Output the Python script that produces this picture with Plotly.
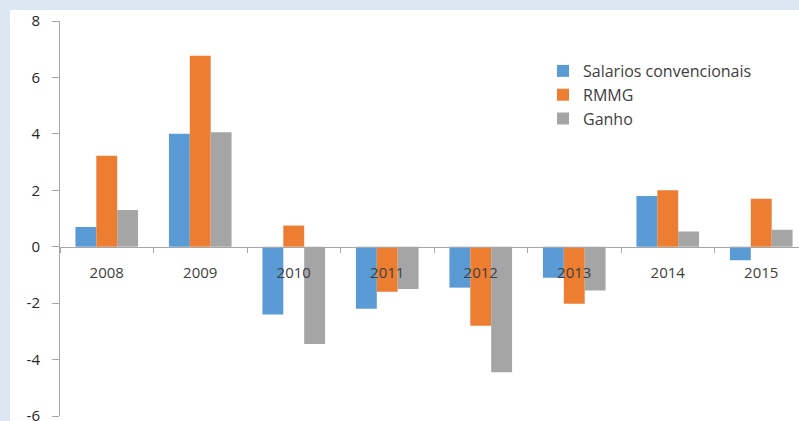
import plotly.graph_objects as go

years = ["2008", "2009", "2010", "2011", "2012", "2013", "2014", "2015"]
salarios = [0.7, 4.0, -2.4, -2.2, -1.45, -1.1, 1.8, -0.48]
rmmg = [3.22, 6.77, 0.75, -1.6, -2.8, -2.02, 2.0, 1.7]
ganho = [1.3, 4.06, -3.45, -1.5, -4.45, -1.55, 0.54, 0.6]

y_ticks = [-6, -4, -2, 0, 2, 4, 6, 8]
y_tick_labels = ["-6", "-4", "-2", "0", "2", "4", "6", "8"]

series_names = ["Salarios convencionais", "RMMG", "Ganho"]
series_colors = ["#5B9BD5", "#ED7D31", "#A5A5A5"]

W, H = 799, 421
ml, mr, mt, mb = 60, 0, 21, 5
pw = W - ml - mr
ph = H - mt - mb

fig = go.Figure()
for name, vals, col in zip(series_names, [salarios, rmmg, ganho], series_colors):
    fig.add_trace(go.Bar(x=years, y=vals, name=name, marker_color=col,
                         marker_line_width=0))

txt = "#404040"
axis_col = "#A6A6A6"
fig.update_layout(
    template="none",
    width=W, height=H,
    margin=dict(l=ml, r=mr, t=mt, b=mb, pad=0, autoexpand=False),
    paper_bgcolor="#DCE7F3",
    plot_bgcolor="rgba(0,0,0,0)",
    barmode="group",
    bargap=0.33,
    bargroupgap=0,
    font=dict(family="Open Sans, sans-serif", size=15, color=txt),
    showlegend=True,
    legend=dict(x=(543 - ml) / pw, y=(H - mb - 54) / ph, xanchor="left", yanchor="top",
                bgcolor="rgba(0,0,0,0)", font=dict(size=16, color=txt),
                itemwidth=30, tracegroupgap=0),
    xaxis=dict(type="category", range=[-0.5, -0.5 + pw / 93.5], anchor="free",
               position=6 / 14, automargin=False,
               showline=True, linecolor=axis_col, linewidth=1,
               ticks="outside", tickson="boundaries", ticklen=5, tickcolor=axis_col,
               showgrid=False, zeroline=False, ticklabelstandoff=12,
               tickfont=dict(size=15, color=txt), fixedrange=True),
    yaxis=dict(range=[-6, 8], tickvals=y_ticks, ticktext=y_tick_labels,
               automargin=False, showline=True, linecolor=axis_col,
               linewidth=1, ticks="outside", ticklen=7, tickcolor=axis_col,
               showgrid=False, zeroline=False, ticklabelstandoff=9,
               ticklabeloverflow="allow",
               tickfont=dict(size=15, color="#262626", family="Open Sans, sans-serif")),
)

# white chart area on top of light blue page border
fig.add_shape(type="rect", xref="paper", yref="paper", layer="below",
              x0=(10 - ml) / pw, x1=1.05, y0=-0.1, y1=(H - mb - 10) / ph,
              fillcolor="white", line_width=0)

fig.write_html("out.html", config={"displayModeBar": False},
               post_script="document.body.style.margin='0';document.body.style.overflow='hidden';")
